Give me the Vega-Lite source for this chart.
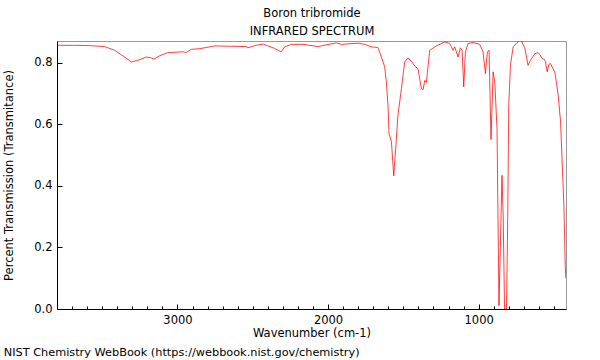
{
  "$schema": "https://vega.github.io/schema/vega-lite/v6.json",
  "width": 509,
  "height": 268,
  "padding": {"left": 3, "top": 7, "right": 5, "bottom": 2},
  "config": {"view": {"stroke": "#999999", "strokeWidth": 1}, "font": "DejaVu Sans"},
  "title": {"text": "NIST Chemistry WebBook (https://webbook.nist.gov/chemistry)", "orient": "bottom", "anchor": "start", "frame": "bounds", "font": "DejaVu Sans", "fontSize": 11.3, "fontWeight": "normal", "color": "#000000", "offset": 8},
  "data": {"values": [
    {"wn": 3800, "T": 0.856}, {"wn": 3684, "T": 0.856}, {"wn": 3584, "T": 0.855}, {"wn": 3484, "T": 0.852},
    {"wn": 3418, "T": 0.840}, {"wn": 3371, "T": 0.825}, {"wn": 3307, "T": 0.802}, {"wn": 3265, "T": 0.807},
    {"wn": 3207, "T": 0.818}, {"wn": 3179, "T": 0.816}, {"wn": 3157, "T": 0.811}, {"wn": 3119, "T": 0.822},
    {"wn": 3066, "T": 0.832}, {"wn": 2966, "T": 0.835}, {"wn": 2941, "T": 0.833}, {"wn": 2908, "T": 0.843},
    {"wn": 2853, "T": 0.845}, {"wn": 2753, "T": 0.854}, {"wn": 2653, "T": 0.853}, {"wn": 2543, "T": 0.852},
    {"wn": 2532, "T": 0.848}, {"wn": 2488, "T": 0.855}, {"wn": 2433, "T": 0.860}, {"wn": 2399, "T": 0.854},
    {"wn": 2355, "T": 0.846}, {"wn": 2310, "T": 0.835}, {"wn": 2288, "T": 0.851}, {"wn": 2244, "T": 0.859},
    {"wn": 2167, "T": 0.859}, {"wn": 2067, "T": 0.852}, {"wn": 1945, "T": 0.864}, {"wn": 1912, "T": 0.859},
    {"wn": 1801, "T": 0.863}, {"wn": 1757, "T": 0.859}, {"wn": 1712, "T": 0.851}, {"wn": 1669, "T": 0.849},
    {"wn": 1646, "T": 0.818}, {"wn": 1624, "T": 0.786}, {"wn": 1613, "T": 0.737}, {"wn": 1602, "T": 0.661},
    {"wn": 1595, "T": 0.569}, {"wn": 1579, "T": 0.542}, {"wn": 1564, "T": 0.432}, {"wn": 1551, "T": 0.520},
    {"wn": 1536, "T": 0.629}, {"wn": 1513, "T": 0.715}, {"wn": 1491, "T": 0.802}, {"wn": 1469, "T": 0.815},
    {"wn": 1447, "T": 0.804}, {"wn": 1425, "T": 0.789}, {"wn": 1403, "T": 0.780}, {"wn": 1380, "T": 0.715},
    {"wn": 1369, "T": 0.712}, {"wn": 1358, "T": 0.742}, {"wn": 1347, "T": 0.735}, {"wn": 1325, "T": 0.840},
    {"wn": 1280, "T": 0.854}, {"wn": 1225, "T": 0.867}, {"wn": 1192, "T": 0.862}, {"wn": 1170, "T": 0.840},
    {"wn": 1159, "T": 0.851}, {"wn": 1137, "T": 0.818}, {"wn": 1121, "T": 0.848}, {"wn": 1110, "T": 0.840},
    {"wn": 1099, "T": 0.721}, {"wn": 1088, "T": 0.835}, {"wn": 1070, "T": 0.862}, {"wn": 1037, "T": 0.865},
    {"wn": 993, "T": 0.859}, {"wn": 971, "T": 0.835}, {"wn": 955, "T": 0.764}, {"wn": 942, "T": 0.835},
    {"wn": 931, "T": 0.840}, {"wn": 918, "T": 0.550}, {"wn": 904, "T": 0.770}, {"wn": 893, "T": 0.737},
    {"wn": 878, "T": 0.585}, {"wn": 865, "T": 0.011}, {"wn": 856, "T": 0.200}, {"wn": 845, "T": 0.434},
    {"wn": 837, "T": 0.300}, {"wn": 828, "T": 0.000}, {"wn": 815, "T": 0.000}, {"wn": 807, "T": 0.300},
    {"wn": 800, "T": 0.661}, {"wn": 789, "T": 0.791}, {"wn": 771, "T": 0.851}, {"wn": 749, "T": 0.862},
    {"wn": 727, "T": 0.873}, {"wn": 716, "T": 0.869}, {"wn": 694, "T": 0.848}, {"wn": 672, "T": 0.791},
    {"wn": 656, "T": 0.807}, {"wn": 627, "T": 0.829}, {"wn": 605, "T": 0.832}, {"wn": 594, "T": 0.826},
    {"wn": 578, "T": 0.813}, {"wn": 565, "T": 0.811}, {"wn": 556, "T": 0.802}, {"wn": 545, "T": 0.770},
    {"wn": 534, "T": 0.794}, {"wn": 523, "T": 0.797}, {"wn": 506, "T": 0.780}, {"wn": 494, "T": 0.770},
    {"wn": 472, "T": 0.694}, {"wn": 456, "T": 0.607}, {"wn": 443, "T": 0.445}, {"wn": 434, "T": 0.336},
    {"wn": 425, "T": 0.141}, {"wn": 421, "T": 0.100}
  ]},
  "layer": [
    {
      "mark": {"type": "line", "color": "#ff0000", "strokeWidth": 1, "opacity": 0.75, "clip": true},
      "encoding": {
        "x": {
          "field": "wn", "type": "quantitative",
          "scale": {"domain": [420, 3800], "reverse": true, "nice": false, "zero": false},
          "axis": {
            "values": [500, 600, 700, 800, 900, 1000, 1100, 1200, 1300, 1400, 1500, 1600, 1700, 1800, 1900, 2000, 2100, 2200, 2300, 2400, 2500, 2600, 2700, 2800, 2900, 3000, 3100, 3200, 3300, 3400, 3500, 3600, 3700],
            "labelExpr": "datum.value % 1000 === 0 ? format(datum.value, 'd') : ''",
            "tickSize": {"expr": "datum.value % 1000 === 0 ? -5 : -3"},
            "tickColor": "#000000", "domainColor": "#000000",
            "labelFont": "DejaVu Sans", "labelFontSize": 11.5, "labelColor": "#000000", "labelPadding": 10,
            "grid": false,
            "title": "Wavenumber (cm-1)", "titleFont": "DejaVu Sans", "titleFontSize": 11.5, "titleFontWeight": "normal", "titleColor": "#000000", "titlePadding": 2
          }
        },
        "y": {
          "field": "T", "type": "quantitative",
          "scale": {"domain": [0, 0.87], "nice": false, "zero": true},
          "axis": {
            "values": [0, 0.05, 0.1, 0.15, 0.2, 0.25, 0.3, 0.35, 0.4, 0.45, 0.5, 0.55, 0.6, 0.65, 0.7, 0.75, 0.8, 0.85],
            "labelExpr": "abs(datum.value * 5 - round(datum.value * 5)) < 0.001 ? format(datum.value, '.1f') : ''",
            "tickSize": {"expr": "abs(datum.value * 5 - round(datum.value * 5)) < 0.001 ? -5 : -3"},
            "tickColor": "#000000", "domainColor": "#000000",
            "labelFont": "DejaVu Sans", "labelFontSize": 11.5, "labelColor": "#000000", "labelPadding": 10,
            "grid": false,
            "title": "Percent Transmission (Transmitance)", "titleFont": "DejaVu Sans", "titleFontSize": 11.5, "titleFontWeight": "normal", "titleColor": "#000000", "titlePadding": 19
          }
        }
      }
    },
    {
      "mark": {"type": "line", "opacity": 0},
      "encoding": {
        "x": {
          "field": "wn", "type": "quantitative",
          "axis": {
            "orient": "top", "domain": false, "ticks": false, "labels": false, "grid": false,
            "title": ["Boron tribromide", "INFRARED SPECTRUM"], "titleFont": "DejaVu Sans", "titleFontSize": 11.5, "titleFontWeight": "normal", "titleColor": "#000000", "titleLineHeight": 18, "titlePadding": 5
          }
        },
        "y": {"field": "T", "type": "quantitative"}
      }
    }
  ],
  "resolve": {"axis": {"x": "independent"}}
}
